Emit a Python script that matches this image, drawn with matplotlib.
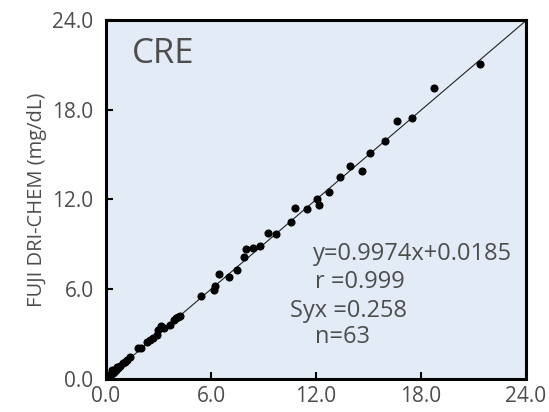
import matplotlib.pyplot as plt
import numpy as np

plt.rcParams['font.family'] = ['Open Sans', 'DejaVu Sans']

ref_vals = [0.02, 0.05, 0.08, 0.1, 0.12, 0.15, 0.18, 0.2, 0.25, 0.3, 0.34, 0.4, 0.45, 0.5,
            0.63, 0.7, 0.8, 0.97, 1.1, 1.37, 1.83, 2.0, 2.34, 2.5, 2.91, 2.97, 3.14, 3.3,
            3.66, 4.0, 4.11, 4.2, 5.43, 6.17, 6.23, 6.46, 7.03, 7.49, 7.89, 8.0, 8.4,
            8.8, 9.26, 9.71, 10.57, 10.8, 11.49, 12.06, 12.17, 12.74, 13.37, 13.94,
            14.63, 15.09, 15.94, 16.63, 17.49, 18.74, 21.37, 0.55, 1.2, 2.7, 3.9]
fdc_vals = [0.05, 0.1, 0.12, 0.15, 0.2, 0.2, 0.22, 0.3, 0.3, 0.35, 0.6, 0.4, 0.5, 0.55,
            0.8, 0.75, 0.9, 1.07, 1.15, 1.47, 2.07, 2.1, 2.47, 2.6, 2.94, 3.28, 3.54, 3.4,
            3.61, 4.05, 4.14, 4.2, 5.55, 5.95, 6.22, 7.02, 6.82, 7.29, 8.16, 8.69, 8.76,
            8.89, 9.76, 9.69, 10.49, 11.43, 11.36, 12.03, 11.63, 12.5, 13.5, 14.24,
            13.9, 15.11, 15.91, 17.25, 17.45, 19.45, 21.06, 0.6, 1.25, 2.75, 3.95]

slope = 0.9974
intercept = 0.0185
ticks = [0, 6, 12, 18, 24]
tick_labels = ["0.0", "6.0", "12.0", "18.0", "24.0"]
stats = ["y=0.9974x+0.0185", "r =0.999", "Syx =0.258", "n=63"]

gray = '#4d4d4d'
fig = plt.figure(figsize=(5.49, 4.12), dpi=100)
ax = fig.add_axes([0.1931, 0.0801, 0.765, 0.8714])
ax.set_facecolor('#e3ecf6')

xl = np.array([0, 24])
ax.plot(xl, slope * xl + intercept, color='#222222', lw=0.8, zorder=2)
ax.scatter(ref_vals, fdc_vals, s=34, color='black', zorder=3, linewidths=0)

ax.set_xlim(0, 24)
ax.set_ylim(0, 24)
ax.set_xticks(ticks)
ax.set_yticks(ticks)
ax.set_xticklabels(tick_labels)
ax.set_yticklabels(tick_labels)
ax.tick_params(direction='in', length=5, width=1.5, colors='black', labelcolor=gray,
               labelsize=15)
ax.tick_params(axis='y', pad=9)
ax.tick_params(axis='x', pad=5)
for sp in ax.spines.values():
    sp.set_linewidth(2.2)

ax.set_ylabel("FUJI DRI-CHEM (mg/dL)", color=gray, fontsize=14.5, labelpad=4)
ax.text(1.5, 21.1, "CRE", color=gray, fontsize=25)

ax.text(11.83, 7.95, stats[0], color=gray, fontsize=17)
ax.text(11.94, 6.08, stats[1], color=gray, fontsize=17)
ax.text(10.5, 4.14, stats[2], color=gray, fontsize=17)
ax.text(11.94, 2.41, stats[3], color=gray, fontsize=17)

plt.savefig("out.png", dpi=100)
